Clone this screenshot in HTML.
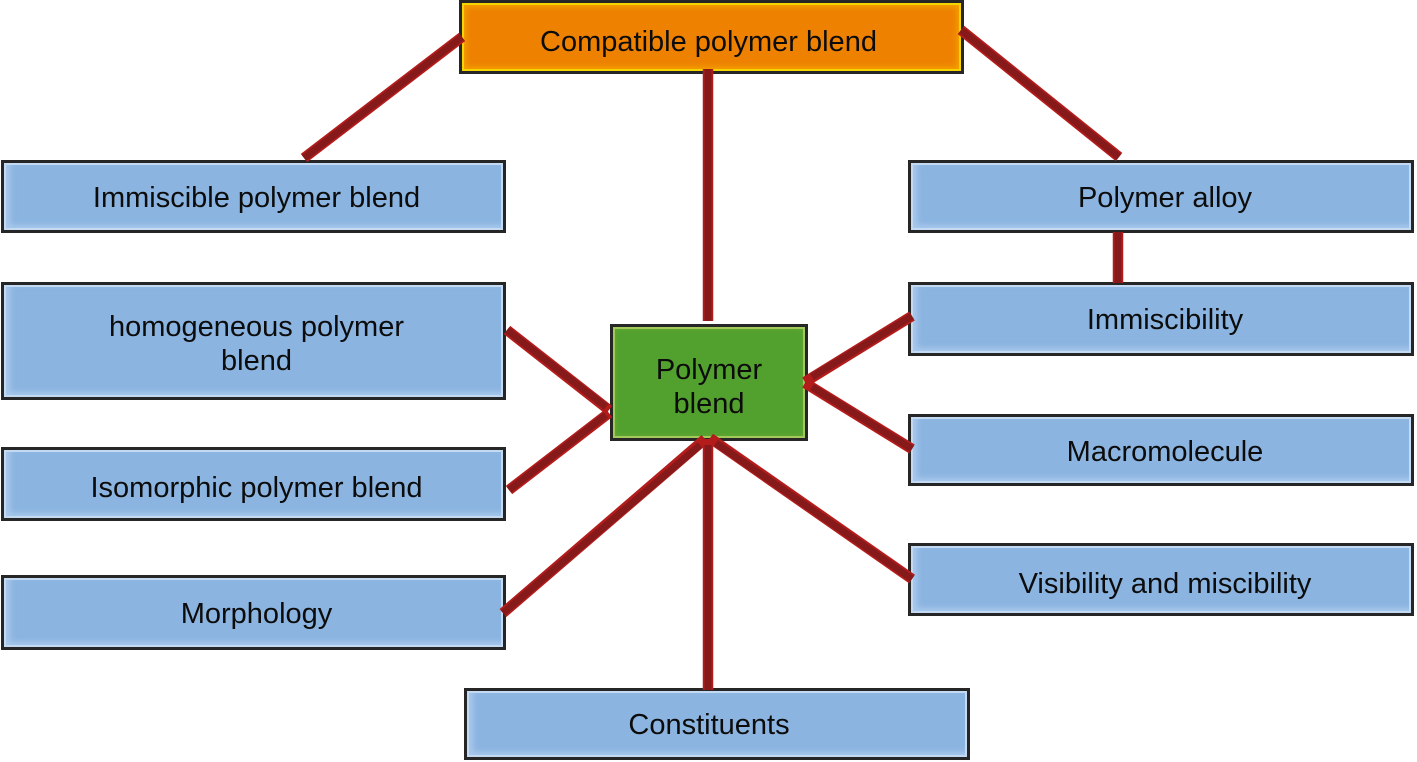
<!DOCTYPE html>
<html>
<head>
<meta charset="utf-8">
<style>
html,body{margin:0;padding:0;background:#fff;}
body{width:1417px;height:762px;overflow:hidden;position:relative;font-family:"Liberation Sans",sans-serif;color:#0c0c0c;}
.b{position:absolute;box-sizing:border-box;border:3px solid #262626;background:#8bb4e0;box-shadow:inset 0 0 0 2px #c4daf2,inset 4px -3px 6px 2px #a9c9ec;}
.o{background:#ee8200;box-shadow:inset 0 0 0 2px #f5d400,inset 0 0 6px 4px #f3a200;}
.g{background:#52a02e;box-shadow:inset 0 0 0 2px #a3c95a,inset 0 0 5px 3px #62a836;}
.t{position:absolute;transform:translate(-50%,-50%);font-size:29px;line-height:34px;text-align:center;white-space:nowrap;}
svg{position:absolute;left:0;top:0;}
</style>
</head>
<body>
<div class="b o" style="left:459px;top:0;width:505px;height:74px;"></div>
<div class="b" style="left:1px;top:160px;width:505px;height:73px;"></div>
<div class="b" style="left:908px;top:160px;width:506px;height:73px;"></div>
<div class="b" style="left:1px;top:282px;width:505px;height:118px;"></div>
<div class="b" style="left:908px;top:282px;width:506px;height:74px;"></div>
<div class="b g" style="left:610px;top:324px;width:198px;height:117px;"></div>
<div class="b" style="left:908px;top:414px;width:506px;height:72px;"></div>
<div class="b" style="left:1px;top:447px;width:505px;height:74px;"></div>
<div class="b" style="left:908px;top:543px;width:506px;height:73px;"></div>
<div class="b" style="left:1px;top:575px;width:505px;height:75px;"></div>
<div class="b" style="left:464px;top:688px;width:506px;height:72px;"></div>
<svg width="1417" height="762">
<g stroke-linecap="butt" fill="none">
<g stroke="#b41c1c" stroke-width="10.5">
<line x1="462" y1="37" x2="304" y2="158"/>
<line x1="708" y1="69" x2="708" y2="321"/>
<line x1="961" y1="30" x2="1119" y2="157"/>
<line x1="1118" y1="232" x2="1118" y2="283"/>
<line x1="507" y1="330" x2="609" y2="410"/>
<line x1="509" y1="490" x2="609" y2="413"/>
<line x1="912" y1="316" x2="805" y2="382"/>
<line x1="912" y1="449" x2="805" y2="383"/>
<line x1="503" y1="613" x2="705" y2="439"/>
<line x1="708" y1="439" x2="708" y2="690"/>
<line x1="912" y1="579" x2="710" y2="438"/>
</g>
<g stroke="#861a1a" stroke-width="7">
<line x1="462" y1="37" x2="304" y2="158"/>
<line x1="708" y1="69" x2="708" y2="321"/>
<line x1="961" y1="30" x2="1119" y2="157"/>
<line x1="1118" y1="232" x2="1118" y2="283"/>
<line x1="507" y1="330" x2="606" y2="407"/>
<line x1="509" y1="490" x2="606" y2="415"/>
<line x1="912" y1="316" x2="812" y2="377"/>
<line x1="912" y1="449" x2="812" y2="387"/>
<line x1="503" y1="613" x2="700" y2="445"/>
<line x1="708" y1="445" x2="708" y2="690"/>
<line x1="912" y1="579" x2="716" y2="443"/>
</g>
</g>
</svg>
<div class="t" style="left:708.5px;top:42px;">Compatible polymer blend</div>
<div class="t" style="left:256.5px;top:198px;">Immiscible polymer blend</div>
<div class="t" style="left:1165px;top:198px;">Polymer alloy</div>
<div class="t" style="left:256.5px;top:344px;">homogeneous polymer<br>blend</div>
<div class="t" style="left:1165px;top:320px;">Immiscibility</div>
<div class="t" style="left:709px;top:387px;">Polymer<br>blend</div>
<div class="t" style="left:1165px;top:452px;">Macromolecule</div>
<div class="t" style="left:256.5px;top:488px;">Isomorphic polymer blend</div>
<div class="t" style="left:1165px;top:584px;">Visibility and miscibility</div>
<div class="t" style="left:256.5px;top:614px;">Morphology</div>
<div class="t" style="left:709px;top:725px;">Constituents</div>
</body>
</html>
